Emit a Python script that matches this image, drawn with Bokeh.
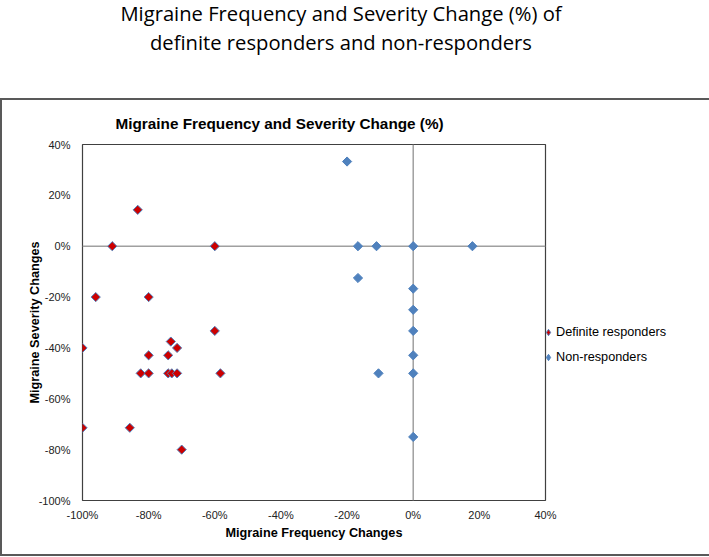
from bokeh.plotting import figure
from bokeh.models import Div, Span, Legend, LegendItem, FixedTicker, PrintfTickFormatter
from bokeh.layouts import column
from bokeh.embed import file_html
from bokeh.resources import INLINE

# ---- data (percent changes) ----
resp_freq = [-83.3, -91.0, -60.0, -96.0, -80.0, -60.0, -73.3, -71.4, -100.0, -80.0,
             -74.1, -82.4, -80.0, -74.1, -73.0, -71.4, -58.3, -100.0, -85.7, -70.0]
resp_sev = [14.3, 0.0, 0.0, -20.0, -20.0, -33.3, -37.5, -40.0, -40.0, -42.9,
            -42.9, -50.0, -50.0, -50.0, -50.0, -50.0, -50.0, -71.4, -71.4, -80.0]

non_freq = [-20.0, -16.7, -11.1, 0.0, 17.9, -16.7, 0.0, 0.0, 0.0, 0.0, 0.0, -10.5, 0.0]
non_sev = [33.3, 0.0, 0.0, 0.0, 0.0, -12.5, -16.7, -25.0, -33.3, -42.9, -50.0, -50.0, -75.0]

x_ticks = [-100, -80, -60, -40, -20, 0, 20, 40]
y_ticks = [-100, -80, -60, -40, -20, 0, 20, 40]

page_title_1 = "Migraine Frequency and Severity Change (%) of"
page_title_2 = "definite responders and non-responders"
chart_title = "Migraine Frequency and Severity Change (%)"
x_label = "Migraine Frequency Changes"
y_label = "Migraine Severity Changes"
series_names = ["Definite responders", "Non-responders"]

RED = "#CC0000"
BLUE = "#4F81BD"
FONT = "Liberation Sans"

title_div = Div(
    text=('<div style="display:block;width:672px;font-family:\'Open Sans\';font-size:20.2px;'
          'line-height:29px;text-align:center;color:#000;margin-top:-6px;">'
          f'{page_title_1}<br>{page_title_2}</div>'),
    width=690, height=88,
)

p = figure(frame_width=459, frame_height=352, x_range=(-100, 40), y_range=(-100, 40),
           output_backend="svg", toolbar_location=None,
           min_border_left=80, min_border_right=157,
           min_border_top=39, min_border_bottom=58,
           styles={"border": "2px solid #595959"})

p.grid.visible = False
p.outline_line_color = "#404040"
p.outline_line_width = 1.2
p.background_fill_color = "white"
p.border_fill_color = "white"

p.title.text = chart_title
p.title.align = "left"
p.title.offset = 33
p.title.standoff = 25
p.title.text_font = FONT
p.title.text_font_size = "15.3px"
p.title.text_font_style = "bold"
p.title.text_color = "#000000"

for ax, ticks in ((p.xaxis, x_ticks), (p.yaxis, y_ticks)):
    ax.ticker = FixedTicker(ticks=ticks)
    ax.formatter = PrintfTickFormatter(format="%d%%")
    ax.axis_line_color = None
    ax.major_tick_line_color = None
    ax.minor_tick_line_color = None
    ax.major_tick_out = 0
    ax.major_tick_in = 0
    ax.minor_tick_out = 0
    ax.minor_tick_in = 0
    ax.major_label_text_font = FONT
    ax.major_label_text_font_size = "11px"
    ax.major_label_text_color = "#222222"
    ax.axis_label_text_font = FONT
    ax.axis_label_text_font_size = "12.7px"
    ax.axis_label_text_font_style = "bold"
    ax.axis_label_text_color = "#000000"

p.xaxis.axis_label = x_label
p.yaxis.axis_label = y_label
p.xaxis.major_label_standoff = 8
p.yaxis.major_label_standoff = 12
p.xaxis.axis_label_standoff = 2
p.yaxis.axis_label_standoff = -6

p.add_layout(Span(location=0, dimension="width", line_color="#A0A0A0",
                  line_width=1.5, level="underlay"))
p.add_layout(Span(location=0, dimension="height", line_color="#A0A0A0",
                  line_width=1.5, level="underlay"))

r_non = p.scatter(non_freq, non_sev, marker="square", size=6.5, angle=0.785398,
                  fill_color=BLUE, line_color=BLUE, line_width=1)
r_resp = p.scatter(resp_freq, resp_sev, marker="square", size=6.5, angle=0.785398,
                   fill_color=RED, line_color=BLUE, line_width=1)

# legend swatches (diamonds): renderers whose only point lies outside the ranges
lg_resp = p.scatter([-1000], [-1000], marker="diamond", fill_color=RED,
                    line_color=BLUE, line_width=1)
lg_non = p.scatter([-1000], [-1000], marker="diamond", fill_color=BLUE,
                   line_color=BLUE, line_width=1)

legend = Legend(items=[LegendItem(label=series_names[0], renderers=[lg_resp]),
                       LegendItem(label=series_names[1], renderers=[lg_non])],
                location=(-5, 135), orientation="vertical",
                glyph_width=16, glyph_height=16, label_height=16,
                label_standoff=0, spacing=9, padding=0, margin=0,
                border_line_color=None, background_fill_alpha=0,
                label_text_font=FONT, label_text_font_size="12.7px",
                label_text_color="#000000")
p.add_layout(legend, "right")

layout = column(title_div, p, spacing=0)

open("out.html", "w").write(file_html(layout, INLINE))
